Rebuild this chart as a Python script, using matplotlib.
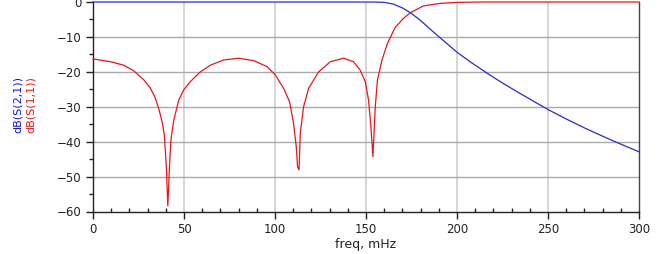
import numpy as np
import matplotlib.pyplot as plt
from matplotlib.ticker import MultipleLocator

# S11 (red)
freq_s11 = [0, 9.6, 16.9, 22.4, 27.9, 31.6, 34.3, 36.1, 38, 39.2, 40.3, 41.1, 42.2,
            42.9, 44.4, 47.1, 49.8, 53.5, 59, 64.5, 71.8, 80, 88.3, 95.6, 100.2,
            104.7, 108, 110.2, 111.7, 112.4, 113.2, 113.9, 115.7, 118.5, 124,
            130.4, 137.7, 143.1, 146.8, 149.6, 151.4, 152.7, 153.8, 155.1, 156.3,
            158.8, 161.8, 166, 170.6, 174.3, 181.6, 190.8, 200, 215, 250, 300]
s11 = [-16.3, -17.1, -18.1, -19.7, -22.3, -24.7, -27.6, -30.5, -34.3, -38.1, -47.2,
       -58.4, -45.3, -39.1, -33.8, -28.1, -25.2, -22.8, -20, -18.1, -16.6, -16.1,
       -16.8, -18.5, -20.9, -24.7, -28.6, -34.8, -41.5, -47.2, -48.1, -37.6, -30,
       -24.7, -20, -17.1, -16.1, -17.1, -19.5, -22.8, -28.1, -35.7, -44.3, -30,
       -22.3, -16.6, -11.8, -7.3, -4.7, -3.1, -1.1, -0.4, -0.1, 0, 0, 0]

# S21 (blue)
freq_s21 = [0, 150, 155, 160, 165, 170, 174.5, 180, 187.5, 194, 200, 208, 216,
            225, 234, 242, 250, 260, 271, 285, 300]
s21 = [0, 0, -0.02, -0.1, -0.6, -1.7, -3.1, -5.3, -8.8, -11.7, -14.4, -17.4,
       -20.2, -23.2, -26, -28.4, -30.8, -33.5, -36.3, -39.6, -42.9]

fig = plt.figure(figsize=(6.62, 2.54), dpi=100)
ax = fig.add_axes([93/662, 1-211.5/254, (639-93)/662, (211.5-2)/254])

ax.set_xlim(0, 300)
ax.set_ylim(-60, 0)
ax.xaxis.set_major_locator(MultipleLocator(50))
ax.xaxis.set_minor_locator(MultipleLocator(10))
ax.yaxis.set_major_locator(MultipleLocator(10))
ax.yaxis.set_minor_locator(MultipleLocator(5))

for v in range(50, 300, 50):
    ax.axvline(v, color='#cccccc', lw=1.1, zorder=0)
for v in range(-50, 0, 10):
    ax.axhline(v, color='#aaaaaa', lw=1.0, zorder=0)

ax.plot(freq_s11, s11, color='#e8161c', lw=0.9, clip_on=False, zorder=3)
ax.plot(freq_s21, s21, color='#2a2ad0', lw=0.9, clip_on=False, zorder=3)

ax.spines['top'].set_visible(False)
ax.spines['left'].set_color('#222222')
ax.spines['bottom'].set_color('#222222')
ax.spines['right'].set_color('#444444')
for s in ax.spines.values():
    s.set_linewidth(1.0)

ax.tick_params(axis='both', which='major', labelsize=8.5, colors='#222222',
               length=5, width=1.0)
ax.tick_params(axis='y', which='minor', direction='out', length=3, width=1.0,
               colors='#222222')
ax.tick_params(axis='x', which='minor', direction='in', length=3, width=1.0,
               colors='#222222')
ax.tick_params(axis='x', which='major', pad=3)

ax.set_xlabel('freq, mHz', fontsize=9, color='#222222', labelpad=2)

fig.text(18/662, 1-105/254, 'dB(S(2,1))', color='#1010e0', rotation=90,
         fontsize=8, ha='center', va='center')
fig.text(31/662, 1-105/254, 'dB(S(1,1))', color='#e8161c', rotation=90,
         fontsize=8, ha='center', va='center')

fig.savefig('out.png', dpi=100)
